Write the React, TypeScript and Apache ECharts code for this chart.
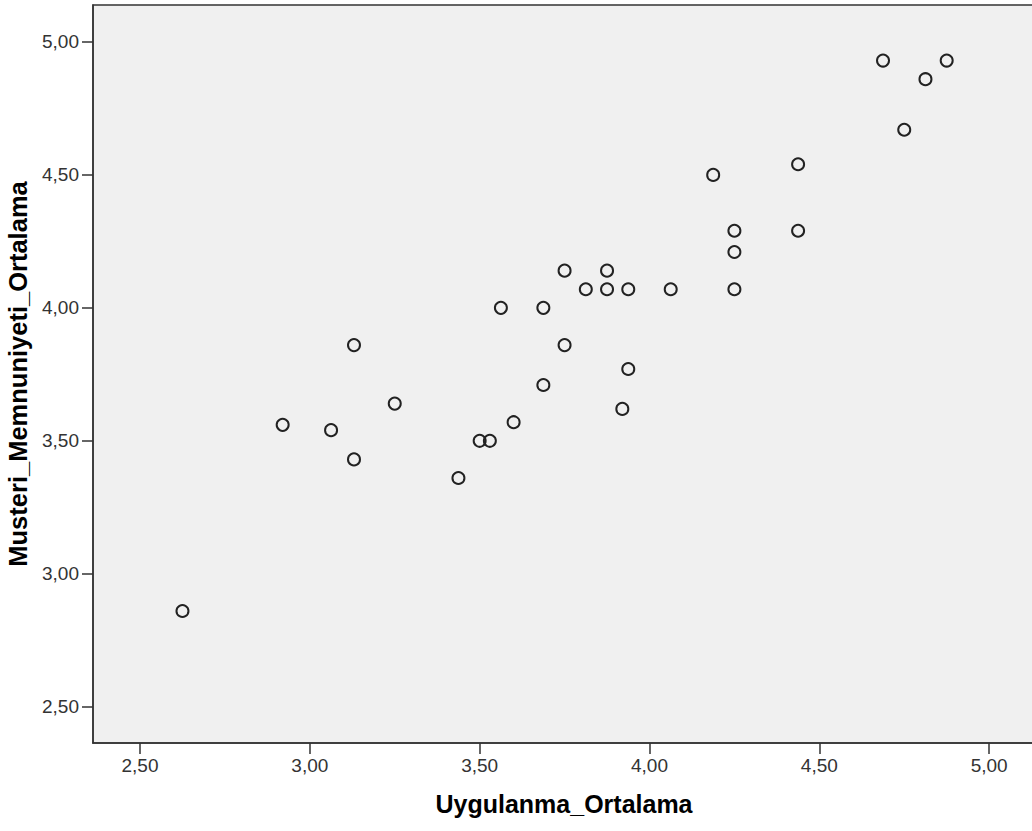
import React, { useEffect, useRef } from "react";
import * as echarts from "echarts";

const xName = "Uygulanma_Ortalama";
const yName = "Musteri_Memnuniyeti_Ortalama";

const xValues = [
  4.6875, 4.875, 4.8125, 4.75, 4.1875, 4.4375, 4.25, 4.4375, 4.25, 4.25,
  3.75, 3.875, 3.8125, 3.875, 3.9375, 4.0625, 3.5625, 3.6875, 3.13, 3.75,
  3.9375, 3.6875, 3.92, 3.25, 2.92, 3.0625, 3.6, 3.5, 3.53, 3.13,
  3.4375, 2.625,
];
const yValues = [
  4.93, 4.93, 4.86, 4.67, 4.5, 4.54, 4.29, 4.29, 4.21, 4.07,
  4.14, 4.14, 4.07, 4.07, 4.07, 4.07, 4.0, 4.0, 3.86, 3.86,
  3.77, 3.71, 3.62, 3.64, 3.56, 3.54, 3.57, 3.5, 3.5, 3.43,
  3.36, 2.86,
];

const xTicks = [2.5, 3.0, 3.5, 4.0, 4.5, 5.0];
const yTicks = [2.5, 3.0, 3.5, 4.0, 4.5, 5.0];

const xMin = 2.3616;
const xMax = 5.135;
const yMin = 2.3635;
const yMax = 5.139;

const fmt = (v: number) => v.toFixed(2).replace(".", ",");

export default function App() {
  const ref = useRef<HTMLDivElement>(null);
  useEffect(() => {
    if (!ref.current) return;
    const chart = echarts.init(ref.current, null, { renderer: "svg" });
    const axisColor = "#333333";
    const font = "'Liberation Sans', Arial, sans-serif";
    chart.setOption({
      animation: false,
      backgroundColor: "#ffffff",
      grid: {
        left: 93,
        top: 5,
        width: 942,
        height: 738,
        outerBoundsMode: "none",
        containLabel: false,
        show: true,
        backgroundColor: "#f0f0f0",
        borderColor: axisColor,
        borderWidth: 1.5,
      },
      xAxis: {
        type: "value",
        min: xMin,
        max: xMax,
        name: xName,
        nameLocation: "middle",
        nameGap: 48,
        nameTextStyle: {
          fontFamily: font,
          fontWeight: "bold",
          fontSize: 25,
          color: "#000000",
        },
        splitLine: { show: false },
        axisLine: { show: true, lineStyle: { color: axisColor, width: 1.5 } },
        axisTick: {
          show: true,
          length: 11,
          customValues: xTicks,
          lineStyle: { color: axisColor, width: 1.5 },
        },
        axisLabel: {
          customValues: xTicks,
          formatter: (v: number) => fmt(v),
          margin: 13,
          fontFamily: font,
          fontSize: 19,
          color: "#333333",
        },
      },
      yAxis: {
        type: "value",
        min: yMin,
        max: yMax,
        name: yName,
        nameLocation: "middle",
        nameGap: 58,
        nameTextStyle: {
          fontFamily: font,
          fontWeight: "bold",
          fontSize: 25.5,
          color: "#000000",
        },
        splitLine: { show: false },
        axisLine: { show: true, lineStyle: { color: axisColor, width: 1.5 } },
        axisTick: {
          show: true,
          length: 11,
          customValues: yTicks,
          lineStyle: { color: axisColor, width: 1.5 },
        },
        axisLabel: {
          customValues: yTicks,
          formatter: (v: number) => fmt(v),
          margin: 14,
          fontFamily: font,
          fontSize: 19,
          color: "#333333",
        },
      },
      series: [
        {
          type: "scatter",
          data: xValues.map((x, i) => [x, yValues[i]]),
          symbol: "circle",
          symbolSize: 12,
          itemStyle: {
            color: "rgba(0,0,0,0)",
            borderColor: "#222222",
            borderWidth: 2,
            opacity: 1,
          },
          emphasis: { disabled: true },
        },
      ],
    });
    return () => chart.dispose();
  }, []);
  return (
    <div
      style={{
        position: "absolute",
        left: 0,
        top: 0,
        width: 1032,
        height: 831,
        overflow: "hidden",
      }}
    >
      <div ref={ref} style={{ width: 1044, height: 831 }} />
    </div>
  );
}
